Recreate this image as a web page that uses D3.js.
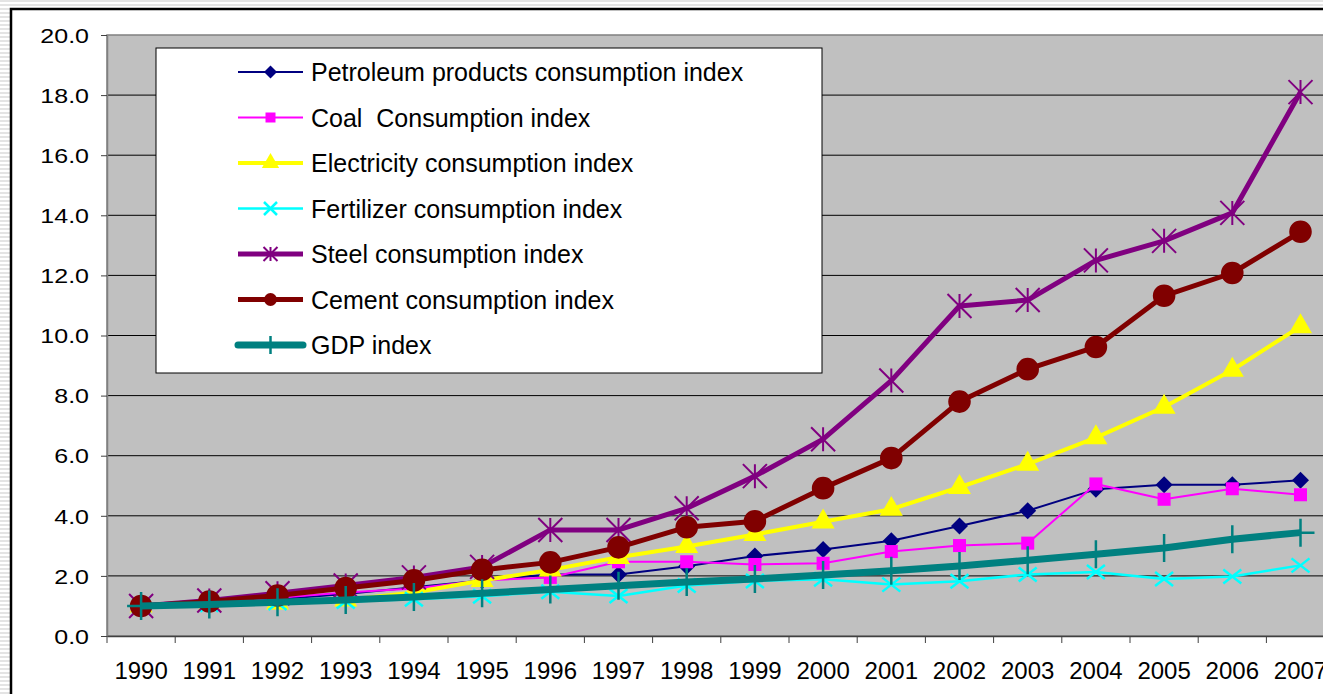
<!DOCTYPE html>
<html>
<head>
<meta charset="utf-8">
<script src="https://cdn.jsdelivr.net/npm/d3@7"></script>
<style>
    html, body { margin: 0; padding: 0; background: #fff; overflow: hidden; }
    svg { display: block; font-family: Arial, "Liberation Sans", sans-serif; }
</style>
</head>
<body>
<div id="chart"></div>
<script>
(function () {
    "use strict";

    // chart values
    const years = ["1990", "1991", "1992", "1993", "1994", "1995", "1996", "1997", "1998",
        "1999", "2000", "2001", "2002", "2003", "2004", "2005", "2006", "2007"];
    const yTicks = [0, 2, 4, 6, 8, 10, 12, 14, 16, 18, 20];

    const petroleum = [1.00, 1.08, 1.22, 1.40, 1.62, 1.85, 2.05, 2.05, 2.32, 2.66, 2.88, 3.17, 3.66, 4.17, 4.88, 5.03, 5.03, 5.18];
    const coal = [1.00, 1.12, 1.27, 1.45, 1.58, 1.85, 1.95, 2.47, 2.47, 2.38, 2.42, 2.81, 3.01, 3.09, 5.06, 4.55, 4.90, 4.70];
    const electricity = [1.00, 1.05, 1.10, 1.20, 1.45, 1.85, 2.20, 2.62, 2.98, 3.38, 3.80, 4.22, 4.95, 5.72, 6.60, 7.62, 8.85, 10.30];
    const fertilizer = [1.00, 1.04, 1.10, 1.15, 1.22, 1.32, 1.47, 1.33, 1.68, 1.83, 1.89, 1.71, 1.82, 2.05, 2.13, 1.90, 1.98, 2.35];
    const steel = [1.00, 1.18, 1.42, 1.68, 1.95, 2.30, 3.53, 3.53, 4.25, 5.32, 6.55, 8.50, 10.98, 11.18, 12.50, 13.15, 14.08, 18.10];
    const cement = [1.00, 1.15, 1.35, 1.60, 1.85, 2.20, 2.45, 2.95, 3.62, 3.82, 4.92, 5.92, 7.80, 8.88, 9.62, 11.32, 12.08, 13.45];
    const gdp = [1.00, 1.05, 1.12, 1.20, 1.30, 1.42, 1.55, 1.67, 1.80, 1.90, 2.03, 2.17, 2.33, 2.52, 2.72, 2.93, 3.22, 3.44];

    const seriesNames = ["Petroleum products consumption index", "Coal  Consumption index",
        "Electricity consumption index", "Fertilizer consumption index",
        "Steel consumption index", "Cement consumption index", "GDP index"];

    const WIDTH = 1323, HEIGHT = 694;
    const PLOT = { left: 107, top: 35, bottom: 636, step: 68.2 };

    // custom marker paths, size = full width
    let crossPath = (w, hgt) => {
        let a = w / 2, b = hgt / 2;
        return `M${-a},${-b}L${a},${b}M${-a},${b}L${a},${-b}`;
    };
    let plusPath = (w, hgt) => `M${-w / 2},0L${w / 2},0M0,${-hgt / 2}L0,${hgt / 2}`;
    let starPath = (s) => crossPath(s, s) + `M0,${-s / 2}L0,${s / 2}`;
    let diamondPath = (s) => {
        let h = s / 2;
        return `M0,${-h}L${h},0L0,${h}L${-h},0Z`;
    };

    const series = [
        { name: seriesNames[0], values: petroleum, color: "#000080", width: 2,
            marker: (big) => ({ d: diamondPath(big ? 17 : 13), fill: true }) },
        { name: seriesNames[1], values: coal, color: "#ff00ff", width: 2,
            marker: (big) => ({ d: d3.symbol(d3.symbolSquare, big ? 170 : 100)(), fill: true }) },
        { name: seriesNames[2], values: electricity, color: "#ffff00", width: 4,
            marker: (big) => ({ d: d3.symbol(d3.symbolTriangle, big ? 230 : 130)(), fill: true }) },
        { name: seriesNames[3], values: fertilizer, color: "#00ffff", width: 2.5,
            marker: (big) => ({ d: big ? crossPath(18, 14) : crossPath(13, 13), fill: false, sw: 2.5 }) },
        { name: seriesNames[4], values: steel, color: "#800080", width: 5,
            marker: (big) => ({ d: starPath(big ? 24 : 14), fill: false, sw: 2 }) },
        { name: seriesNames[5], values: cement, color: "#800000", width: 5,
            marker: (big) => ({ d: d3.symbol(d3.symbolCircle, big ? 400 : 130)(), fill: true }) },
        { name: seriesNames[6], values: gdp, color: "#008080", width: 7,
            marker: (big) => ({ d: big ? plusPath(28, 28) : plusPath(0, 18), fill: false, sw: 2.5 }) }
    ];

    let svg = d3.select("#chart").append("svg")
        .attr("width", WIDTH)
        .attr("height", HEIGHT);

    // striped backdrop behind the chart frame
    let pattern = svg.append("defs").append("pattern")
        .attr("id", "stripes")
        .attr("width", 8).attr("height", 4)
        .attr("patternUnits", "userSpaceOnUse");
    pattern.append("rect").attr("width", 8).attr("height", 4).attr("fill", "#ffffff");
    pattern.append("rect").attr("width", 8).attr("height", 2).attr("fill", "#e4e4e4");

    svg.append("rect")
        .attr("width", WIDTH).attr("height", HEIGHT)
        .attr("fill", "url(#stripes)");

    svg.append("rect")
        .attr("x", 11).attr("y", 9)
        .attr("width", WIDTH + 20).attr("height", HEIGHT + 20)
        .attr("fill", "#ffffff")
        .attr("stroke", "#000")
        .attr("stroke-width", 2.5);

    let x = d3.scaleBand()
        .domain(years)
        .range([PLOT.left, PLOT.left + PLOT.step * years.length]);
    let xc = (d) => x(d) + x.bandwidth() / 2;

    let y = d3.scaleLinear()
        .domain([0, 20])
        .range([PLOT.bottom, PLOT.top]);

    // plot area
    svg.append("rect")
        .attr("x", PLOT.left).attr("y", PLOT.top)
        .attr("width", x.range()[1] - PLOT.left)
        .attr("height", PLOT.bottom - PLOT.top)
        .attr("fill", "#c0c0c0")
        .attr("stroke", "#808080")
        .attr("stroke-width", 1.5);

    // gridlines
    svg.append("g")
        .selectAll("line")
        .data(yTicks.filter(t => t > 0 && t < 20))
        .enter()
        .append("line")
        .attr("x1", PLOT.left).attr("x2", x.range()[1])
        .attr("y1", d => y(d)).attr("y2", d => y(d))
        .attr("stroke", "#000")
        .attr("stroke-width", 1);

    // y axis
    let yAxis = svg.append("g")
        .attr("transform", `translate(${PLOT.left},0)`)
        .call(d3.axisLeft(y)
            .tickValues(yTicks)
            .tickFormat(d3.format(".1f"))
            .tickSize(6)
            .tickSizeOuter(0));
    yAxis.select(".domain").attr("stroke", "#808080").attr("stroke-width", 1.5);
    yAxis.selectAll(".tick line").attr("stroke", "#404040");
    // labels in the picture are stretched sideways
    yAxis.selectAll(".tick text")
        .attr("x", -18 / 1.25)
        .attr("dy", "0.36em")
        .attr("transform", "scale(1.25,1)")
        .attr("fill", "#000")
        .style("font-size", "20px");

    // x axis: labels at the centre, ticks between categories
    let xAxis = svg.append("g")
        .attr("transform", `translate(0,${PLOT.bottom})`)
        .call(d3.axisBottom(x).tickSize(0).tickSizeOuter(0).tickPadding(26));
    xAxis.select(".domain").attr("stroke", "#404040").attr("stroke-width", 1.5);
    xAxis.selectAll(".tick text")
        .attr("fill", "#000")
        .style("font-size", "24px");

    svg.append("g")
        .selectAll("line")
        .data(years)
        .enter()
        .append("line")
        .attr("x1", d => x(d)).attr("x2", d => x(d))
        .attr("y1", PLOT.bottom).attr("y2", PLOT.bottom + 7)
        .attr("stroke", "#404040")
        .attr("stroke-width", 1);

    // series lines and markers, later series drawn on top
    let line = d3.line()
        .x((d, i) => xc(years[i]))
        .y(d => y(d));

    series.forEach(s => {
        let g = svg.append("g");
        g.append("path")
            .attr("d", line(s.values))
            .attr("fill", "none")
            .attr("stroke", s.color)
            .attr("stroke-width", s.width)
            .attr("stroke-linejoin", "round");

        let m = s.marker(true);
        g.selectAll("path.marker")
            .data(s.values)
            .enter()
            .append("path")
            .attr("class", "marker")
            .attr("transform", (d, i) => `translate(${xc(years[i])},${y(d)})`)
            .attr("d", m.d)
            .attr("fill", m.fill ? s.color : "none")
            .attr("stroke", m.fill ? "none" : s.color)
            .attr("stroke-width", m.sw || 0);
    });

    // legend
    const LEG = { x: 156, y: 48, w: 666, h: 325, lineX1: 238, lineX2: 303, textX: 311, row0: 72, rowStep: 45.5 };

    let legend = svg.append("g");
    legend.append("rect")
        .attr("x", LEG.x).attr("y", LEG.y)
        .attr("width", LEG.w).attr("height", LEG.h)
        .attr("fill", "#fff")
        .attr("stroke", "#000")
        .attr("stroke-width", 1);

    let rows = legend.selectAll("g.row")
        .data(series)
        .enter()
        .append("g")
        .attr("class", "row")
        .attr("transform", (d, i) => `translate(0,${LEG.row0 + i * LEG.rowStep})`);

    rows.append("line")
        .attr("x1", LEG.lineX1).attr("x2", LEG.lineX2)
        .attr("stroke", d => d.color)
        .attr("stroke-width", d => d.width)
        .attr("stroke-linecap", d => d.width > 5 ? "round" : "butt");

    rows.append("path")
        .attr("transform", `translate(${(LEG.lineX1 + LEG.lineX2) / 2},0)`)
        .attr("d", d => d.marker(false).d)
        .attr("fill", d => d.marker(false).fill ? d.color : "none")
        .attr("stroke", d => d.marker(false).fill ? "none" : d.color)
        .attr("stroke-width", d => d.marker(false).sw || 0);

    rows.append("text")
        .attr("x", LEG.textX)
        .attr("dy", "0.36em")
        .style("font-size", "25px")
        .attr("fill", "#000")
        .style("white-space", "pre")
        .text(d => d.name);
})();
</script>
</body>
</html>
